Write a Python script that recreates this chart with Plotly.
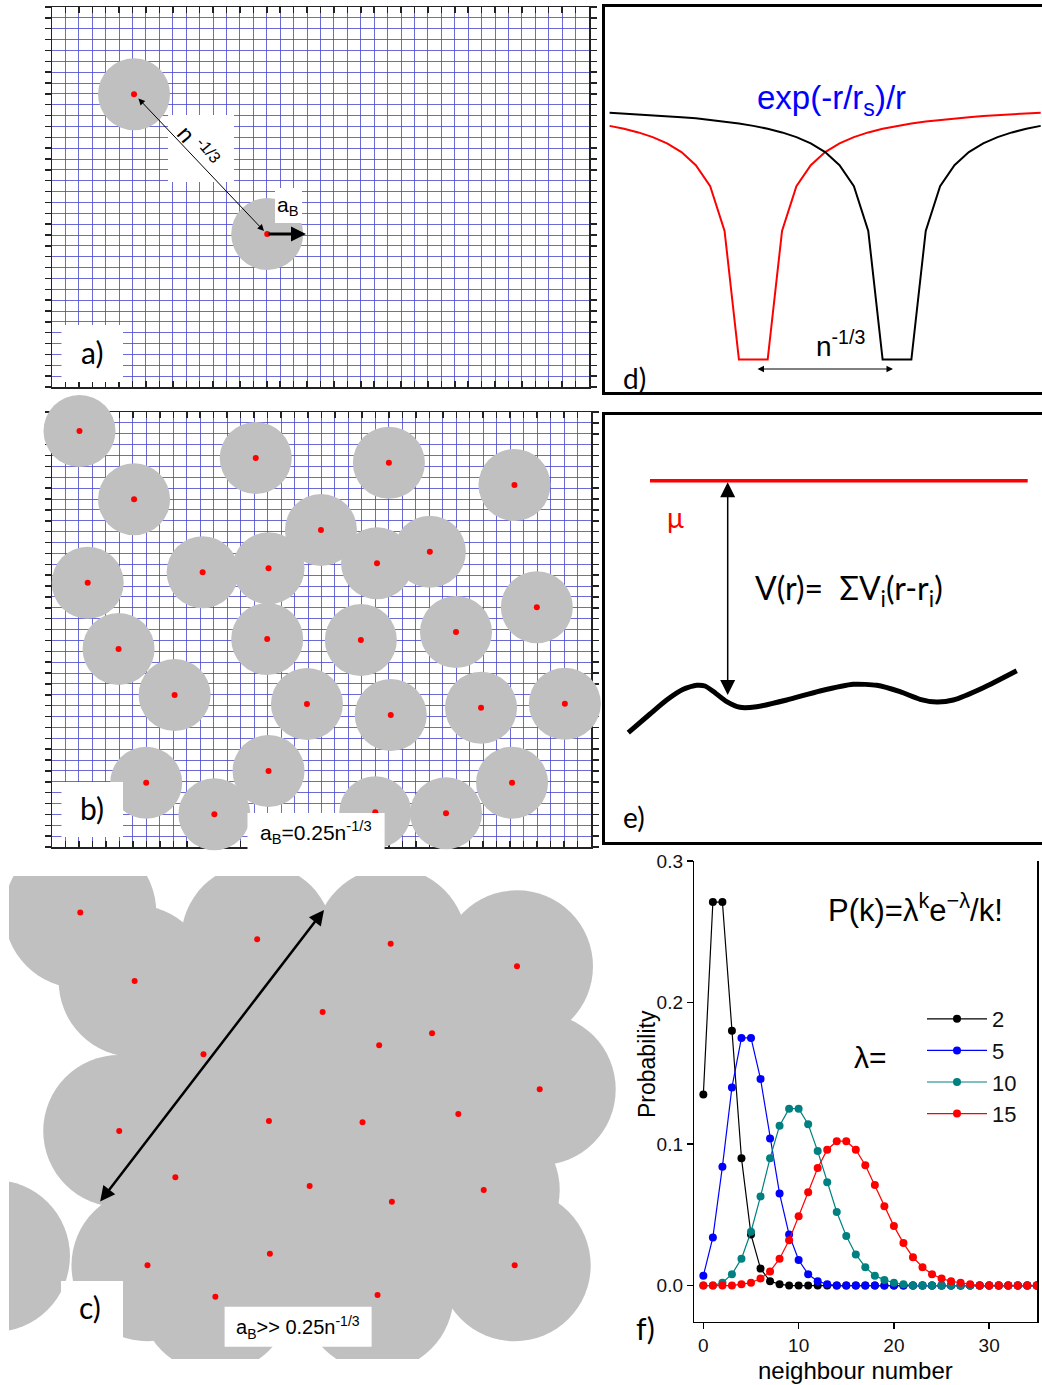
import plotly.graph_objects as go

W, H = 1042, 1385

# ------------------------------------------------------------------ data
# (a) two donors, position in grid cells (x from left edge, y from bottom edge)
a_donor_x = [6.11, 16.03]
a_donor_y = [26.96, 14.09]

# (b) donor positions, grid cells
b_donor_x = [2.04, 6.09, 15.12, 25.00, 34.32, 19.96, 2.65, 11.18, 16.07, 24.12,
             28.04, 35.98, 4.94, 15.97, 22.92, 29.98, 9.10, 18.92, 25.14, 31.84,
             38.06, 6.99, 16.07, 12.05, 23.99, 29.24, 34.14]
b_donor_y = [38.25, 31.97, 35.77, 35.34, 33.29, 29.15, 24.30, 25.26, 25.63, 26.09,
             27.15, 22.04, 18.21, 19.13, 19.03, 19.77, 13.98, 13.15, 12.14, 12.81,
             13.18, 5.91, 6.99, 3.01, 3.19, 3.10, 5.91]

# (c) donor positions, grid cells (first one lies outside the picture)
c_donor_x = [-4.29, 2.09, 15.17, 6.11, 25.04, 34.38, 20.01, 28.10, 24.19, 11.20,
             36.06, 4.97, 16.04, 22.96, 30.04, 9.12, 19.05, 25.13, 31.92, 7.06,
             16.11, 34.21, 12.08, 24.07]
c_donor_y = [7.48, 39.21, 36.72, 32.87, 36.32, 34.23, 30.01, 28.04, 26.93, 26.10,
             22.87, 19.02, 19.94, 19.82, 20.59, 14.75, 13.94, 12.49, 13.57, 6.62,
             7.69, 6.62, 3.72, 3.88]

# (d) potential wells: depth at sample distances from each centre
well_centres = [0, 10]
well_distance = [1, 2, 3, 4, 5, 6, 7, 8, 9, 10, 11, 12, 13, 14, 15, 16, 17, 18, 19, 20]
well_depth = [-0.99, -0.50, -0.33, -0.25, -0.20, -0.167, -0.143, -0.125, -0.111, -0.10,
              -0.091, -0.083, -0.077, -0.071, -0.067, -0.062, -0.059, -0.056, -0.053, -0.050]

# (e) random potential landscape and chemical potential
landscape_x = [23.6, 45.3, 62.0, 78.6, 92.0, 100.3, 110.3, 122.0, 135.3, 152.0,
               182.0, 215.3, 248.6, 272.0, 295.3, 315.3, 332.0, 348.6, 378.6, 412.0]
landscape_y = [109.6, 128.3, 142.3, 153.0, 157.0, 156.3, 149.6, 140.6, 135.0, 135.6,
               142.3, 151.3, 158.0, 157.0, 150.6, 143.0, 140.3, 142.3, 154.6, 171.6]
mu_x = [45.3, 423.0]
mu_y = [361.6, 361.6]
gap_x = 123.0
gap_bottom = 147.3

# (f) Poisson distributions
k_values = [0, 1, 2, 3, 4, 5, 6, 7, 8, 9, 10, 11, 12, 13, 14, 15, 16, 17,
            18, 19, 20, 21, 22, 23, 24, 25, 26, 27, 28, 29, 30, 31, 32, 33, 34, 35]
lambda_labels = ["2", "5", "10", "15"]
p_lambda2 = [0.135, 0.271, 0.271, 0.180, 0.090, 0.036, 0.012, 0.003, 0.001, 0.000,
             0.000, 0.000, 0.000, 0.000, 0.000, 0.000, 0.000, 0.000, 0.000, 0.000,
             0.000, 0.000, 0.000, 0.000, 0.000, 0.000, 0.000, 0.000, 0.000, 0.000,
             0.000, 0.000, 0.000, 0.000, 0.000, 0.000]
p_lambda5 = [0.007, 0.034, 0.084, 0.140, 0.175, 0.175, 0.146, 0.104, 0.065, 0.036,
             0.018, 0.008, 0.003, 0.001, 0.000, 0.000, 0.000, 0.000, 0.000, 0.000,
             0.000, 0.000, 0.000, 0.000, 0.000, 0.000, 0.000, 0.000, 0.000, 0.000,
             0.000, 0.000, 0.000, 0.000, 0.000, 0.000]
p_lambda10 = [0.000, 0.000, 0.002, 0.008, 0.019, 0.038, 0.063, 0.090, 0.113, 0.125,
              0.125, 0.114, 0.095, 0.073, 0.052, 0.035, 0.022, 0.013, 0.007, 0.004,
              0.002, 0.001, 0.000, 0.000, 0.000, 0.000, 0.000, 0.000, 0.000, 0.000,
              0.000, 0.000, 0.000, 0.000, 0.000, 0.000]
p_lambda15 = [0.000, 0.000, 0.000, 0.000, 0.001, 0.002, 0.005, 0.010, 0.019, 0.032,
              0.049, 0.066, 0.083, 0.096, 0.102, 0.102, 0.096, 0.085, 0.071, 0.056,
              0.042, 0.030, 0.020, 0.013, 0.008, 0.005, 0.003, 0.002, 0.001, 0.000,
              0.000, 0.000, 0.000, 0.000, 0.000, 0.000]
f_x_ticks = [0, 10, 20, 30]
f_y_ticks = [0.0, 0.1, 0.2, 0.3]

# ------------------------------------------------------------------ style
FONT_A = "Liberation Sans, Arial, sans-serif"
FONT_C = "Lato, Open Sans, sans-serif"
GREY = "#c0c0c0"
RED = "#ff0000"
GRIDBLUE = "rgba(70,70,200,0.8)"
series_colours = ["#000000", "#0000ff", "#008080", "#ff0000"]


def ids(n):
    return ("x" if n == 1 else f"x{n}"), ("y" if n == 1 else f"y{n}")


def keys(n):
    return ("xaxis" if n == 1 else f"xaxis{n}"), ("yaxis" if n == 1 else f"yaxis{n}")


def dom_x(a, b):
    return [a / W, b / W]


def dom_y(top, bottom):
    return [1 - bottom / H, 1 - top / H]


fig = go.Figure()
layout_axes = {}


def grid_axes(n, left, right, top, bottom, ncol, nrow):
    xk, yk = keys(n)
    xi, yi = ids(n)
    common = dict(tick0=0, dtick=1, showgrid=True, gridcolor=GRIDBLUE, gridwidth=1,
                  zeroline=False, showline=True, linecolor="#222", linewidth=1.5,
                  ticklen=6, tickwidth=1.5, tickcolor="#222", mirror="ticks",
                  showticklabels=False, layer="below traces", fixedrange=True,
                  automargin=False)
    layout_axes[xk] = dict(domain=dom_x(left, right), range=[0, ncol], anchor=yi,
                           ticks="inside", **common)
    layout_axes[yk] = dict(domain=dom_y(top, bottom), range=[0, nrow], anchor=xi,
                           ticks="outside", **common)


def hidden_axes(n, left, right, top, bottom, xr, yr):
    xk, yk = keys(n)
    xi, yi = ids(n)
    layout_axes[xk] = dict(domain=dom_x(left, right), range=xr, anchor=yi, visible=False,
                           fixedrange=True, automargin=False)
    layout_axes[yk] = dict(domain=dom_y(top, bottom), range=yr, anchor=xi, visible=False,
                           fixedrange=True, automargin=False)


def frame_axes(n, left, right, top, bottom, xr, yr):
    xk, yk = keys(n)
    xi, yi = ids(n)
    common = dict(showgrid=False, zeroline=False, showline=True, linecolor="black",
                  linewidth=3, ticks="", showticklabels=False, fixedrange=True,
                  automargin=False)
    layout_axes[xk] = dict(domain=dom_x(left, right), range=xr, anchor=yi, mirror=True,
                           **common)
    layout_axes[yk] = dict(domain=dom_y(top, bottom), range=yr, anchor=xi, mirror=False,
                           **common)


def donors(n, xs, ys, diameter, clip):
    xi, yi = ids(n)
    fig.add_trace(go.Scatter(x=xs, y=ys, mode="markers", xaxis=xi, yaxis=yi,
                             marker=dict(size=diameter, color=GREY, line=dict(width=0)),
                             cliponaxis=clip, showlegend=False, hoverinfo="skip"))
    fig.add_trace(go.Scatter(x=xs, y=ys, mode="markers", xaxis=xi, yaxis=yi,
                             marker=dict(size=6, color=RED, line=dict(width=0)),
                             cliponaxis=clip, showlegend=False, hoverinfo="skip"))


# ---- panel a
grid_axes(1, 52, 589, 7, 387, 40, 35)
donors(1, a_donor_x, a_donor_y, 72, False)

# ---- panel b
grid_axes(2, 52, 591, 412, 847, 40, 40)
donors(2, b_donor_x, b_donor_y, 72, False)

# ---- panel c (grid + clipped large spheres on overlay axes)
grid_axes(3, 52, 593, 893, 1337, 40, 41)
cx, cy = (593 - 52) / 40, (1337 - 893) / 41
hidden_axes(4, 9, 617, 876, 1359,
            [(9 - 52) / cx, (617 - 52) / cx], [(1337 - 1359) / cy, (1337 - 876) / cy])
donors(4, c_donor_x, c_donor_y, 152, True)

# ---- panel d
d_unit_x, d_centre_px = 14.37, 753.3
d_unit_y, d_zero_px = 262.6, 99.6
frame_axes(5, 604.7, 1042, 7.3, 391.7,
           [(604.7 - d_centre_px) / d_unit_x, (1042 - d_centre_px) / d_unit_x],
           [-(391.7 - d_zero_px) / d_unit_y, (d_zero_px - 7.3) / d_unit_y])
for centre, colour in zip(well_centres, [RED, "black"]):
    xs, ys = [], []
    for d, v in zip(reversed(well_distance), reversed(well_depth)):
        if centre - d >= -10:
            xs.append(centre - d)
            ys.append(v)
    for d, v in zip(well_distance, well_depth):
        if centre + d <= 20:
            xs.append(centre + d)
            ys.append(v)
    fig.add_trace(go.Scatter(x=xs, y=ys, mode="lines", xaxis="x5", yaxis="y5",
                             line=dict(color=colour, width=2), showlegend=False,
                             hoverinfo="skip"))

# ---- panel e
frame_axes(6, 604.7, 1042, 415, 842.3, [0, 437.3], [0, 427.3])
fig.add_trace(go.Scatter(x=mu_x, y=mu_y, mode="lines", xaxis="x6", yaxis="y6",
                         line=dict(color=RED, width=3.5), showlegend=False, hoverinfo="skip"))
fig.add_trace(go.Scatter(x=landscape_x, y=landscape_y, mode="lines", xaxis="x6", yaxis="y6",
                         line=dict(color="black", width=5, shape="spline", smoothing=0.6),
                         showlegend=False, hoverinfo="skip"))

# ---- panel f
layout_axes["xaxis7"] = dict(domain=dom_x(694.3, 1037.3), range=[-0.95, 35.05], anchor="y7",
                             showgrid=False, zeroline=False, showline=True, linecolor="black",
                             linewidth=1.5, mirror=False, ticks="outside", ticklen=6,
                             tickwidth=1.5, tickcolor="black", tickvals=f_x_ticks,
                             ticktext=[str(v) for v in f_x_ticks],
                             tickfont=dict(family=FONT_A, size=19, color="#111"),
                             fixedrange=True, automargin=False)
layout_axes["yaxis7"] = dict(domain=dom_y(861, 1321.5), range=[-0.0254, 0.3], anchor="x7",
                             showgrid=False, zeroline=False, showline=True, linecolor="black",
                             linewidth=1.5, mirror=True, ticks="outside", ticklen=6,
                             tickwidth=1.5, tickcolor="black", tickvals=f_y_ticks,
                             ticktext=[f"{v:.1f}" for v in f_y_ticks],
                             tickfont=dict(family=FONT_A, size=19, color="#111"),
                             fixedrange=True, automargin=False)
for label, probs, colour in zip(lambda_labels, [p_lambda2, p_lambda5, p_lambda10, p_lambda15],
                                series_colours):
    fig.add_trace(go.Scatter(x=k_values, y=probs, mode="lines+markers", name=label,
                             xaxis="x7", yaxis="y7",
                             line=dict(color=colour, width=1.2),
                             marker=dict(color=colour, size=8), showlegend=True))

# ------------------------------------------------------------------ overlays
def px(x, y):
    return x / W, 1 - y / H


boxes = [(61.5, 325, 123, 382), (168, 115, 234, 182), (275, 188, 302, 223),
         (61.5, 782, 123, 837), (247.5, 813, 384.6, 850),
         (61, 1281, 123, 1337), (224.6, 1306.7, 371.6, 1346.7)]
shapes = []
for x0, y0, x1, y1 in boxes:
    a0, b0 = px(x0, y1)
    a1, b1 = px(x1, y0)
    shapes.append(dict(type="rect", xref="paper", yref="paper", x0=a0, y0=b0, x1=a1, y1=b1,
                       fillcolor="white", line=dict(width=0), layer="above"))


def txt(x, y, text, size, font=FONT_A, color="black", angle=0, xanchor="center"):
    a, b = px(x, y)
    return dict(x=a, y=b, xref="paper", yref="paper", text=text, showarrow=False,
                font=dict(family=font, size=size, color=color), textangle=angle,
                xanchor=xanchor, yanchor="middle")


def arrow(xh, yh, xt, yt, width, size, both=False):
    a, b = px(xh, yh)
    return dict(x=a, y=b, xref="paper", yref="paper", ax=xt - xh, ay=yt - yh, text="",
                showarrow=True, arrowhead=2, arrowsize=size, arrowwidth=width,
                arrowcolor="black", arrowside="end+start" if both else "end",
                standoff=0, startstandoff=0)


annotations = [
    txt(92, 352, "a)", 30, FONT_C),
    txt(198, 146, "n <sup>-1/3</sup>", 23, angle=50),
    txt(288, 206, "a<sub>B</sub>", 21),
    arrow(264, 231, 137, 97, 1, 1.3, both=True),
    arrow(306, 234, 267, 234, 3, 1.0),
    txt(92, 808, "b)", 30, FONT_C),
    txt(316, 832, "a<sub>B</sub>=0.25n<sup>-1/3</sup>", 21),
    txt(90, 1307, "c)", 30, FONT_C),
    txt(298, 1327, "a<sub>B</sub>&gt;&gt; 0.25n<sup>-1/3</sup>", 20),
    arrow(324, 910, 99, 1203, 2.5, 1.2, both=True),
    # d
    txt(831, 100, "exp(-r/r<sub>s</sub>)/r", 33, color="#0000ff"),
    txt(840, 344, "n<sup>-1/3</sup>", 28),
    arrow(893, 369, 756, 369, 1, 1.3, both=True),
    txt(634, 378, "d)", 28, FONT_C),
    # e
    txt(675, 517, "μ", 28, FONT_C, color=RED),
    txt(753, 590, "V(r)=&nbsp; ΣV<sub>i</sub>(r-r<sub>i</sub>)", 32, FONT_C, xanchor="left"),
    txt(634, 817, "e)", 28, FONT_C),
    dict(x=gap_x, y=gap_bottom, xref="x6", yref="y6", ax=gap_x, ay=mu_y[0], axref="x6",
         ayref="y6", text="", showarrow=True, arrowhead=2, arrowsize=2.0, arrowwidth=1.5,
         arrowcolor="black", arrowside="end+start", standoff=0, startstandoff=0),
    # f
    txt(915, 908, "P(k)=λ<sup>k</sup>e<sup>−λ</sup>/k!", 31),
    txt(870, 1057, "λ=", 30),
    txt(647, 1064, "Probability", 23, angle=-90),
    txt(855, 1370, "neighbour number", 24),
    txt(645, 1328, "f)", 30, FONT_C),
]

lx, ly = px(922, 998)
fig.update_layout(
    width=W, height=H, margin=dict(l=0, r=0, t=0, b=0, pad=0, autoexpand=False),
    paper_bgcolor="white", plot_bgcolor="rgba(0,0,0,0)",
    shapes=shapes, annotations=annotations,
    showlegend=True,
    legend=dict(x=lx, y=ly, xanchor="left", yanchor="top", bgcolor="rgba(0,0,0,0)",
                font=dict(family=FONT_A, size=22, color="#111"), tracegroupgap=0,
                itemwidth=60),
    **layout_axes,
)

fig.write_html("out.html", config={"displayModeBar": False, "staticPlot": True},
               post_script="document.body.style.margin='0px';document.body.style.overflow='hidden';")
